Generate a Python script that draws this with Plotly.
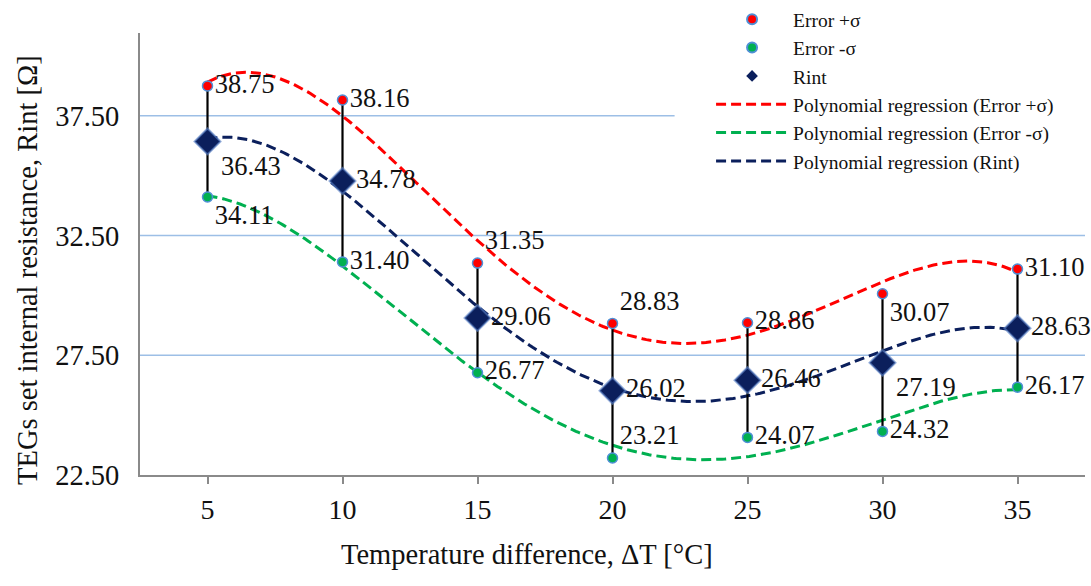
import numpy as np
import plotly.graph_objects as go

# ---- data ----
dT = [5, 10, 15, 20, 25, 30, 35]
err_plus = [38.75, 38.16, 31.35, 28.83, 28.86, 30.07, 31.10]
err_minus = [34.11, 31.40, 26.77, 23.21, 24.07, 24.32, 26.17]
rint = [36.43, 34.78, 29.06, 26.02, 26.46, 27.19, 28.63]
y_ticks = [22.5, 27.5, 32.5, 37.5]
x_ticks = [5, 10, 15, 20, 25, 30, 35]

# label placement (style only)
pos_plus = ["middle right", "middle right", "top right", "top right", "middle right", "bottom right", "middle right"]
pos_rint = ["bottom right", "middle right", "middle right", "middle right", "middle right", "bottom right", "middle right"]
pos_minus = ["bottom right", "middle right", "middle right", "top right", "middle right", "middle right", "middle right"]

FONT = "Liberation Serif, Times New Roman, serif"
RED = "#ff0000"
GREEN = "#00b050"
NAVY = "#0b1f5c"
OUTLINE = "#4f8fd6"
TEXT = "#111111"

POLY_DEG = 4
xs = np.linspace(min(dT), max(dT), 300)


def fit(yv):
    c = np.polyfit(dT, yv, POLY_DEG)
    return np.polyval(c, xs)


fig = go.Figure()

# regression curves
for yv, col in [(err_plus, RED), (rint, NAVY), (err_minus, GREEN)]:
    fig.add_trace(go.Scatter(x=xs, y=fit(yv), mode="lines", showlegend=False, cliponaxis=False,
                             line=dict(color=col, width=3, dash="10px,5px"), hoverinfo="skip"))

# error bars via Rint trace
ep = [p - r for p, r in zip(err_plus, rint)]
em = [r - m for r, m in zip(rint, err_minus)]
fig.add_trace(go.Scatter(x=dT, y=rint, mode="markers", showlegend=False, cliponaxis=False,
                         marker=dict(size=0.1, color="rgba(0,0,0,0)"),
                         error_y=dict(type="data", symmetric=False, array=ep, arrayminus=em,
                                      color="black", thickness=2.2, width=0)))

lblfont = dict(family=FONT, size=26.5, color=TEXT)
fig.add_trace(go.Scatter(x=dT, y=err_plus, mode="markers+text", showlegend=False, cliponaxis=False,
                         text=[f"{v:.2f}" for v in err_plus], textposition=pos_plus, textfont=lblfont,
                         marker=dict(size=10, color=RED, line=dict(color=OUTLINE, width=1.5))))
fig.add_trace(go.Scatter(x=dT, y=err_minus, mode="markers+text", showlegend=False, cliponaxis=False,
                         text=[f"{v:.2f}" for v in err_minus], textposition=pos_minus, textfont=lblfont,
                         marker=dict(size=10, color=GREEN, line=dict(color=OUTLINE, width=1.5))))
fig.add_trace(go.Scatter(x=dT, y=rint, mode="markers+text", showlegend=False, cliponaxis=False,
                         text=[f"{v:.2f}" for v in rint], textposition=pos_rint, textfont=lblfont,
                         marker=dict(size=20, symbol="diamond", color=NAVY,
                                     line=dict(color="rgba(90,130,200,0.6)", width=2))))

# legend-only entries
fig.add_trace(go.Scatter(x=[None], y=[None], mode="markers", name="Error +σ",
                         marker=dict(size=10, color=RED, line=dict(color=OUTLINE, width=2))))
fig.add_trace(go.Scatter(x=[None], y=[None], mode="markers", name="Error -σ",
                         marker=dict(size=10, color=GREEN, line=dict(color=OUTLINE, width=2))))
fig.add_trace(go.Scatter(x=[None], y=[None], mode="markers", name="Rint",
                         marker=dict(size=9, symbol="diamond", color=NAVY)))
fig.add_trace(go.Scatter(x=[None], y=[None], mode="lines", name="Polynomial regression (Error +σ)",
                         line=dict(color=RED, width=3, dash="10px,5px")))
fig.add_trace(go.Scatter(x=[None], y=[None], mode="lines", name="Polynomial regression (Error -σ)",
                         line=dict(color=GREEN, width=3, dash="10px,5px")))
fig.add_trace(go.Scatter(x=[None], y=[None], mode="lines", name="Polynomial regression (Rint)",
                         line=dict(color=NAVY, width=3, dash="10px,5px")))

# gridlines as shapes (the top one is hidden behind the legend on the right)
grid_col = "#9dbfe6"
for gy in y_ticks[1:]:
    x1 = 22.3 if gy == max(y_ticks) else 37.5
    fig.add_shape(type="line", xref="x", yref="y", x0=2.5, x1=x1, y0=gy, y1=gy,
                  line=dict(color=grid_col, width=1.5), layer="below")

fig.update_layout(
    width=1091, height=586,
    margin=dict(l=140, r=6, t=33, b=110.5, autoexpand=False),
    plot_bgcolor="white", paper_bgcolor="white",
    font=dict(family=FONT, size=26, color=TEXT),
    showlegend=True,
    legend=dict(x=0.6043, y=1.0746, xanchor="left", yanchor="top",
                bgcolor="rgba(255,255,255,0)", font=dict(family=FONT, size=19.5, color=TEXT),
                itemwidth=72, tracegroupgap=0, traceorder="normal"),
    xaxis=dict(range=[2.5, 37.5], tickvals=x_ticks, ticktext=[str(t) for t in x_ticks],
               showgrid=False, zeroline=False, showline=True, linecolor="#8a8a8a", linewidth=2,
               ticks="outside", ticklen=7, tickwidth=1.5, tickcolor="#8a8a8a",
               ticklabelstandoff=1, tickfont=dict(family=FONT, size=28, color=TEXT)),
    yaxis=dict(range=[22.5, 40.96], tickvals=y_ticks, ticktext=[f"{t:.2f}" for t in y_ticks],
               showgrid=False, zeroline=False, showline=True, linecolor="#8a8a8a", linewidth=2,
               ticks="", ticklabelstandoff=13, tickfont=dict(family=FONT, size=28.5, color=TEXT)),
    annotations=[
        dict(text="Temperature difference, ΔT [°C]", xref="paper", yref="paper",
             x=0.4095, y=-0.18, xanchor="center", yanchor="middle", showarrow=False,
             font=dict(family=FONT, size=28.5, color=TEXT)),
        dict(text="TEGs set internal resistance, Rint [Ω]", xref="paper", yref="paper",
             x=-0.1185, y=0.464, xanchor="center", yanchor="middle", showarrow=False,
             textangle=-90, font=dict(family=FONT, size=28.5, color=TEXT)),
    ],
)

fig.write_html("out.html", config={"displayModeBar": False},
               post_script="document.body.style.margin='0';document.body.style.overflow='hidden';")
